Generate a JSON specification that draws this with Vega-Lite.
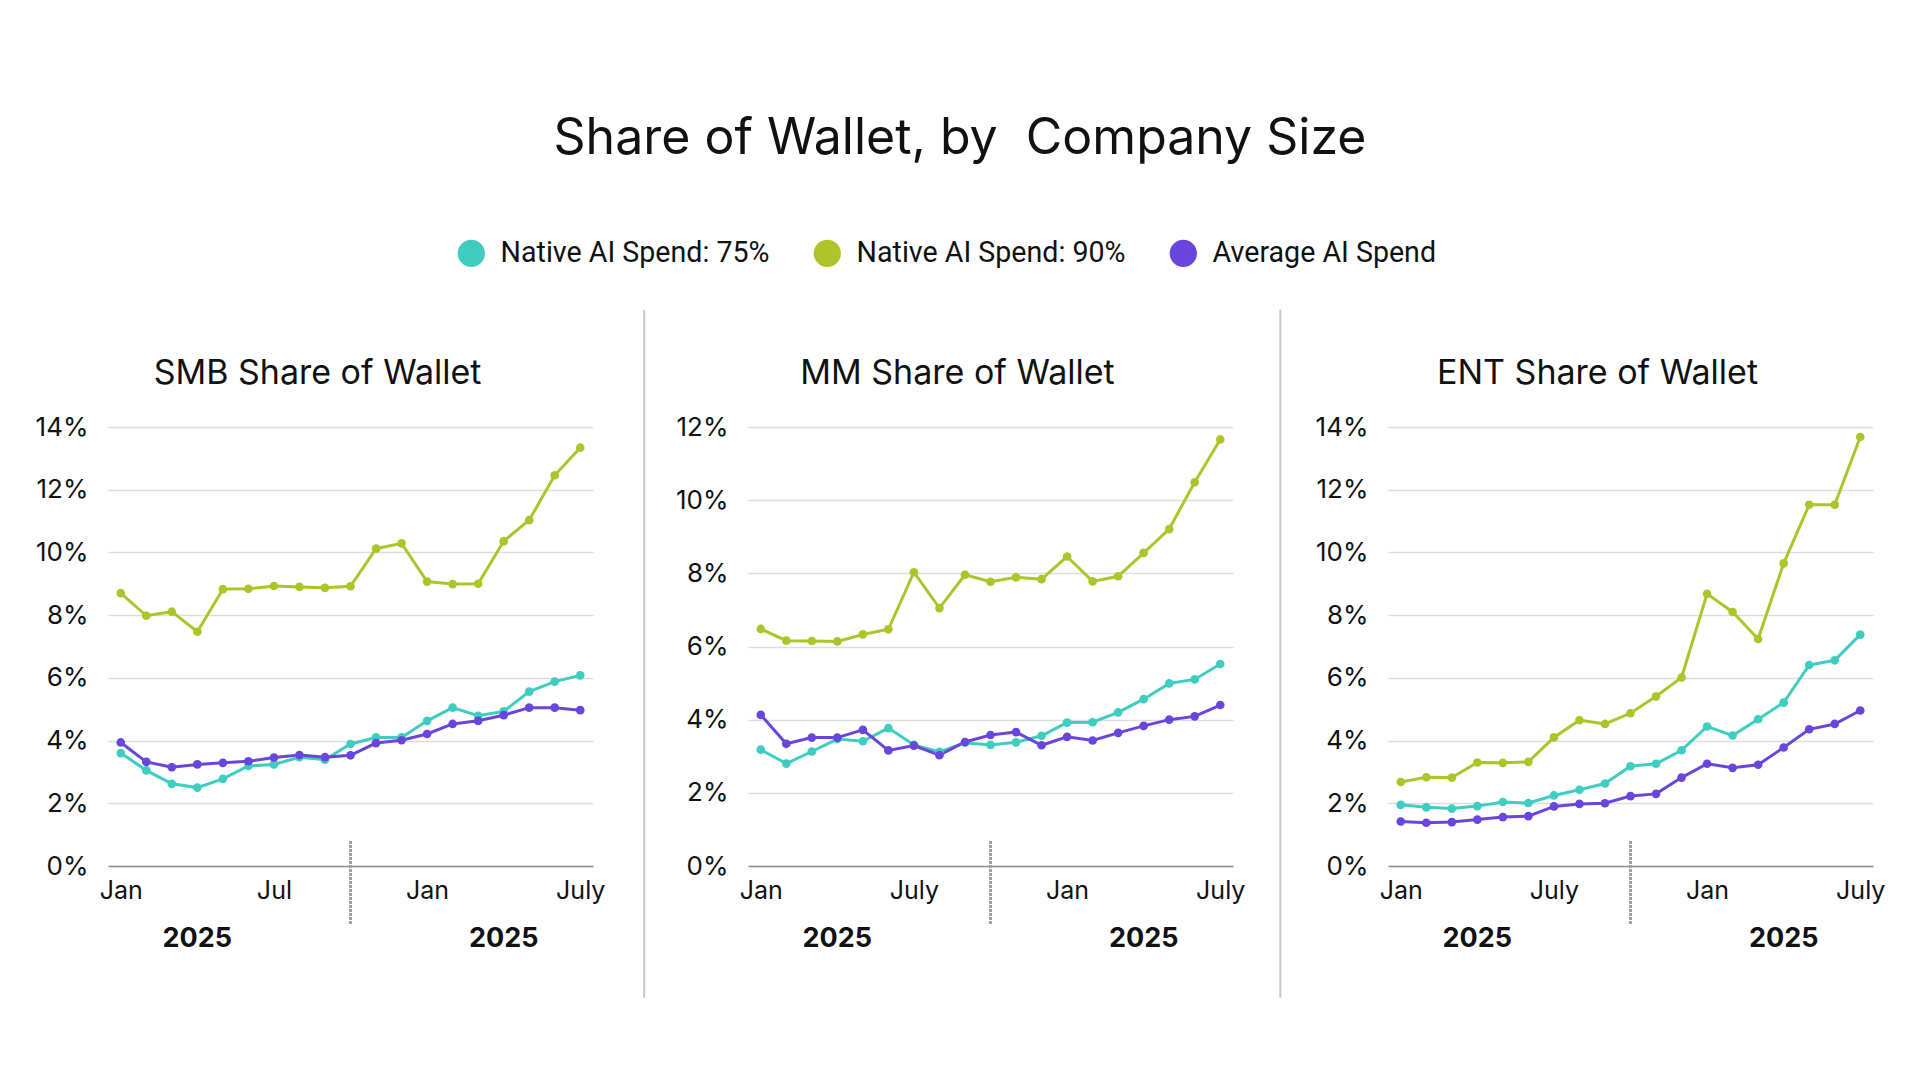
{
"$schema":"https://vega.github.io/schema/vega-lite/v6.json",
"padding":{"left":35,"top":114,"right":0,"bottom":0},
"background":"white",
"title":{"text":"Share of Wallet, by \u00a0Company Size","fontSize":50,"font":"Inter","fontWeight":400,"color":"#111111","anchor":"middle","offset":75},
"config":{"view":{"stroke":null},"font":"Inter","axis":{"labelFont":"Inter","labelColor":"#111111"}},
"spacing":155,
"bounds":"flush",
"data":{"values":[
{"panel":"SMB","series":"Native AI Spend: 75%","month":0,"value":3.60},{"panel":"SMB","series":"Native AI Spend: 75%","month":1,"value":3.05},{"panel":"SMB","series":"Native AI Spend: 75%","month":2,"value":2.62},{"panel":"SMB","series":"Native AI Spend: 75%","month":3,"value":2.50},{"panel":"SMB","series":"Native AI Spend: 75%","month":4,"value":2.78},{"panel":"SMB","series":"Native AI Spend: 75%","month":5,"value":3.19},{"panel":"SMB","series":"Native AI Spend: 75%","month":6,"value":3.24},{"panel":"SMB","series":"Native AI Spend: 75%","month":7,"value":3.47},{"panel":"SMB","series":"Native AI Spend: 75%","month":8,"value":3.39},{"panel":"SMB","series":"Native AI Spend: 75%","month":9,"value":3.89},{"panel":"SMB","series":"Native AI Spend: 75%","month":10,"value":4.10},{"panel":"SMB","series":"Native AI Spend: 75%","month":11,"value":4.10},{"panel":"SMB","series":"Native AI Spend: 75%","month":12,"value":4.63},{"panel":"SMB","series":"Native AI Spend: 75%","month":13,"value":5.05},{"panel":"SMB","series":"Native AI Spend: 75%","month":14,"value":4.79},{"panel":"SMB","series":"Native AI Spend: 75%","month":15,"value":4.93},{"panel":"SMB","series":"Native AI Spend: 75%","month":16,"value":5.56},{"panel":"SMB","series":"Native AI Spend: 75%","month":17,"value":5.88},{"panel":"SMB","series":"Native AI Spend: 75%","month":18,"value":6.08},
{"panel":"SMB","series":"Native AI Spend: 90%","month":0,"value":8.70},{"panel":"SMB","series":"Native AI Spend: 90%","month":1,"value":7.98},{"panel":"SMB","series":"Native AI Spend: 90%","month":2,"value":8.11},{"panel":"SMB","series":"Native AI Spend: 90%","month":3,"value":7.47},{"panel":"SMB","series":"Native AI Spend: 90%","month":4,"value":8.83},{"panel":"SMB","series":"Native AI Spend: 90%","month":5,"value":8.84},{"panel":"SMB","series":"Native AI Spend: 90%","month":6,"value":8.93},{"panel":"SMB","series":"Native AI Spend: 90%","month":7,"value":8.90},{"panel":"SMB","series":"Native AI Spend: 90%","month":8,"value":8.87},{"panel":"SMB","series":"Native AI Spend: 90%","month":9,"value":8.92},{"panel":"SMB","series":"Native AI Spend: 90%","month":10,"value":10.12},{"panel":"SMB","series":"Native AI Spend: 90%","month":11,"value":10.29},{"panel":"SMB","series":"Native AI Spend: 90%","month":12,"value":9.07},{"panel":"SMB","series":"Native AI Spend: 90%","month":13,"value":8.99},{"panel":"SMB","series":"Native AI Spend: 90%","month":14,"value":9.00},{"panel":"SMB","series":"Native AI Spend: 90%","month":15,"value":10.36},{"panel":"SMB","series":"Native AI Spend: 90%","month":16,"value":11.03},{"panel":"SMB","series":"Native AI Spend: 90%","month":17,"value":12.46},{"panel":"SMB","series":"Native AI Spend: 90%","month":18,"value":13.34},
{"panel":"SMB","series":"Average AI Spend","month":0,"value":3.94},{"panel":"SMB","series":"Average AI Spend","month":1,"value":3.32},{"panel":"SMB","series":"Average AI Spend","month":2,"value":3.15},{"panel":"SMB","series":"Average AI Spend","month":3,"value":3.24},{"panel":"SMB","series":"Average AI Spend","month":4,"value":3.29},{"panel":"SMB","series":"Average AI Spend","month":5,"value":3.34},{"panel":"SMB","series":"Average AI Spend","month":6,"value":3.46},{"panel":"SMB","series":"Average AI Spend","month":7,"value":3.54},{"panel":"SMB","series":"Average AI Spend","month":8,"value":3.47},{"panel":"SMB","series":"Average AI Spend","month":9,"value":3.53},{"panel":"SMB","series":"Average AI Spend","month":10,"value":3.92},{"panel":"SMB","series":"Average AI Spend","month":11,"value":4.01},{"panel":"SMB","series":"Average AI Spend","month":12,"value":4.21},{"panel":"SMB","series":"Average AI Spend","month":13,"value":4.53},{"panel":"SMB","series":"Average AI Spend","month":14,"value":4.63},{"panel":"SMB","series":"Average AI Spend","month":15,"value":4.81},{"panel":"SMB","series":"Average AI Spend","month":16,"value":5.05},{"panel":"SMB","series":"Average AI Spend","month":17,"value":5.05},{"panel":"SMB","series":"Average AI Spend","month":18,"value":4.97},
{"panel":"MM","series":"Native AI Spend: 75%","month":0,"value":3.18},{"panel":"MM","series":"Native AI Spend: 75%","month":1,"value":2.80},{"panel":"MM","series":"Native AI Spend: 75%","month":2,"value":3.13},{"panel":"MM","series":"Native AI Spend: 75%","month":3,"value":3.47},{"panel":"MM","series":"Native AI Spend: 75%","month":4,"value":3.41},{"panel":"MM","series":"Native AI Spend: 75%","month":5,"value":3.77},{"panel":"MM","series":"Native AI Spend: 75%","month":6,"value":3.31},{"panel":"MM","series":"Native AI Spend: 75%","month":7,"value":3.12},{"panel":"MM","series":"Native AI Spend: 75%","month":8,"value":3.37},{"panel":"MM","series":"Native AI Spend: 75%","month":9,"value":3.31},{"panel":"MM","series":"Native AI Spend: 75%","month":10,"value":3.38},{"panel":"MM","series":"Native AI Spend: 75%","month":11,"value":3.56},{"panel":"MM","series":"Native AI Spend: 75%","month":12,"value":3.92},{"panel":"MM","series":"Native AI Spend: 75%","month":13,"value":3.93},{"panel":"MM","series":"Native AI Spend: 75%","month":14,"value":4.20},{"panel":"MM","series":"Native AI Spend: 75%","month":15,"value":4.56},{"panel":"MM","series":"Native AI Spend: 75%","month":16,"value":4.99},{"panel":"MM","series":"Native AI Spend: 75%","month":17,"value":5.10},{"panel":"MM","series":"Native AI Spend: 75%","month":18,"value":5.52},
{"panel":"MM","series":"Native AI Spend: 90%","month":0,"value":6.48},{"panel":"MM","series":"Native AI Spend: 90%","month":1,"value":6.16},{"panel":"MM","series":"Native AI Spend: 90%","month":2,"value":6.15},{"panel":"MM","series":"Native AI Spend: 90%","month":3,"value":6.14},{"panel":"MM","series":"Native AI Spend: 90%","month":4,"value":6.33},{"panel":"MM","series":"Native AI Spend: 90%","month":5,"value":6.47},{"panel":"MM","series":"Native AI Spend: 90%","month":6,"value":8.03},{"panel":"MM","series":"Native AI Spend: 90%","month":7,"value":7.05},{"panel":"MM","series":"Native AI Spend: 90%","month":8,"value":7.96},{"panel":"MM","series":"Native AI Spend: 90%","month":9,"value":7.77},{"panel":"MM","series":"Native AI Spend: 90%","month":10,"value":7.89},{"panel":"MM","series":"Native AI Spend: 90%","month":11,"value":7.84},{"panel":"MM","series":"Native AI Spend: 90%","month":12,"value":8.46},{"panel":"MM","series":"Native AI Spend: 90%","month":13,"value":7.78},{"panel":"MM","series":"Native AI Spend: 90%","month":14,"value":7.92},{"panel":"MM","series":"Native AI Spend: 90%","month":15,"value":8.56},{"panel":"MM","series":"Native AI Spend: 90%","month":16,"value":9.21},{"panel":"MM","series":"Native AI Spend: 90%","month":17,"value":10.49},{"panel":"MM","series":"Native AI Spend: 90%","month":18,"value":11.66},
{"panel":"MM","series":"Average AI Spend","month":0,"value":4.13},{"panel":"MM","series":"Average AI Spend","month":1,"value":3.34},{"panel":"MM","series":"Average AI Spend","month":2,"value":3.51},{"panel":"MM","series":"Average AI Spend","month":3,"value":3.51},{"panel":"MM","series":"Average AI Spend","month":4,"value":3.72},{"panel":"MM","series":"Average AI Spend","month":5,"value":3.16},{"panel":"MM","series":"Average AI Spend","month":6,"value":3.29},{"panel":"MM","series":"Average AI Spend","month":7,"value":3.03},{"panel":"MM","series":"Average AI Spend","month":8,"value":3.39},{"panel":"MM","series":"Average AI Spend","month":9,"value":3.58},{"panel":"MM","series":"Average AI Spend","month":10,"value":3.66},{"panel":"MM","series":"Average AI Spend","month":11,"value":3.30},{"panel":"MM","series":"Average AI Spend","month":12,"value":3.53},{"panel":"MM","series":"Average AI Spend","month":13,"value":3.43},{"panel":"MM","series":"Average AI Spend","month":14,"value":3.64},{"panel":"MM","series":"Average AI Spend","month":15,"value":3.83},{"panel":"MM","series":"Average AI Spend","month":16,"value":4.00},{"panel":"MM","series":"Average AI Spend","month":17,"value":4.09},{"panel":"MM","series":"Average AI Spend","month":18,"value":4.40},
{"panel":"ENT","series":"Native AI Spend: 75%","month":0,"value":1.95},{"panel":"ENT","series":"Native AI Spend: 75%","month":1,"value":1.87},{"panel":"ENT","series":"Native AI Spend: 75%","month":2,"value":1.83},{"panel":"ENT","series":"Native AI Spend: 75%","month":3,"value":1.91},{"panel":"ENT","series":"Native AI Spend: 75%","month":4,"value":2.04},{"panel":"ENT","series":"Native AI Spend: 75%","month":5,"value":2.01},{"panel":"ENT","series":"Native AI Spend: 75%","month":6,"value":2.25},{"panel":"ENT","series":"Native AI Spend: 75%","month":7,"value":2.43},{"panel":"ENT","series":"Native AI Spend: 75%","month":8,"value":2.63},{"panel":"ENT","series":"Native AI Spend: 75%","month":9,"value":3.18},{"panel":"ENT","series":"Native AI Spend: 75%","month":10,"value":3.26},{"panel":"ENT","series":"Native AI Spend: 75%","month":11,"value":3.69},{"panel":"ENT","series":"Native AI Spend: 75%","month":12,"value":4.45},{"panel":"ENT","series":"Native AI Spend: 75%","month":13,"value":4.16},{"panel":"ENT","series":"Native AI Spend: 75%","month":14,"value":4.68},{"panel":"ENT","series":"Native AI Spend: 75%","month":15,"value":5.21},{"panel":"ENT","series":"Native AI Spend: 75%","month":16,"value":6.41},{"panel":"ENT","series":"Native AI Spend: 75%","month":17,"value":6.56},{"panel":"ENT","series":"Native AI Spend: 75%","month":18,"value":7.38},
{"panel":"ENT","series":"Native AI Spend: 90%","month":0,"value":2.68},{"panel":"ENT","series":"Native AI Spend: 90%","month":1,"value":2.83},{"panel":"ENT","series":"Native AI Spend: 90%","month":2,"value":2.82},{"panel":"ENT","series":"Native AI Spend: 90%","month":3,"value":3.30},{"panel":"ENT","series":"Native AI Spend: 90%","month":4,"value":3.29},{"panel":"ENT","series":"Native AI Spend: 90%","month":5,"value":3.32},{"panel":"ENT","series":"Native AI Spend: 90%","month":6,"value":4.10},{"panel":"ENT","series":"Native AI Spend: 90%","month":7,"value":4.65},{"panel":"ENT","series":"Native AI Spend: 90%","month":8,"value":4.53},{"panel":"ENT","series":"Native AI Spend: 90%","month":9,"value":4.87},{"panel":"ENT","series":"Native AI Spend: 90%","month":10,"value":5.41},{"panel":"ENT","series":"Native AI Spend: 90%","month":11,"value":6.01},{"panel":"ENT","series":"Native AI Spend: 90%","month":12,"value":8.68},{"panel":"ENT","series":"Native AI Spend: 90%","month":13,"value":8.10},{"panel":"ENT","series":"Native AI Spend: 90%","month":14,"value":7.24},{"panel":"ENT","series":"Native AI Spend: 90%","month":15,"value":9.65},{"panel":"ENT","series":"Native AI Spend: 90%","month":16,"value":11.52},{"panel":"ENT","series":"Native AI Spend: 90%","month":17,"value":11.52},{"panel":"ENT","series":"Native AI Spend: 90%","month":18,"value":13.68},
{"panel":"ENT","series":"Average AI Spend","month":0,"value":1.42},{"panel":"ENT","series":"Average AI Spend","month":1,"value":1.38},{"panel":"ENT","series":"Average AI Spend","month":2,"value":1.40},{"panel":"ENT","series":"Average AI Spend","month":3,"value":1.48},{"panel":"ENT","series":"Average AI Spend","month":4,"value":1.56},{"panel":"ENT","series":"Average AI Spend","month":5,"value":1.59},{"panel":"ENT","series":"Average AI Spend","month":6,"value":1.90},{"panel":"ENT","series":"Average AI Spend","month":7,"value":1.98},{"panel":"ENT","series":"Average AI Spend","month":8,"value":2.00},{"panel":"ENT","series":"Average AI Spend","month":9,"value":2.23},{"panel":"ENT","series":"Average AI Spend","month":10,"value":2.30},{"panel":"ENT","series":"Average AI Spend","month":11,"value":2.82},{"panel":"ENT","series":"Average AI Spend","month":12,"value":3.26},{"panel":"ENT","series":"Average AI Spend","month":13,"value":3.13},{"panel":"ENT","series":"Average AI Spend","month":14,"value":3.23},{"panel":"ENT","series":"Average AI Spend","month":15,"value":3.78},{"panel":"ENT","series":"Average AI Spend","month":16,"value":4.36},{"panel":"ENT","series":"Average AI Spend","month":17,"value":4.53},{"panel":"ENT","series":"Average AI Spend","month":18,"value":4.96}
]},
"hconcat":[
{
"width":485,"height":439,
"layer":[
{"transform":[{"filter":"datum.panel == 'SMB'"}],
"layer":[
{"mark":{"type":"line","strokeWidth":3},"encoding":{
"x":{"field":"month","type":"ordinal","scale":{"type":"point","padding":0.5,"domain":[0,1,2,3,4,5,6,7,8,9,10,11,12,13,14,15,16,17,18]},"axis":{"values":[0,6,12,18],"labelExpr":"datum.value == 0 ? 'Jan' : datum.value == 6 ? 'Jul' : datum.value == 12 ? 'Jan' : 'July'","title":null,"labelAngle":0,"labelFontSize":25,"labelPadding":12,"ticks":false,"grid":false,"domainColor":"#8c8c8c","domainWidth":1.5}},
"y":{"field":"value","type":"quantitative","scale":{"domain":[0,14],"nice":false},"axis":{"values":[0,2,4,6,8,10,12,14],"labelExpr":"datum.value + '%'","title":null,"labelFontSize":26,"labelPadding":20,"ticks":false,"domain":false,"grid":true,"gridColor":"#dddddd","gridWidth":1.5}},
"color":{"field":"series","type":"nominal","scale":{"domain":["Native AI Spend: 75%","Native AI Spend: 90%","Average AI Spend"],"range":["#3ECDC0","#AFC42A","#6A45DB"]},"legend":{"orient":"none","legendX":349,"legendY":-188,"direction":"horizontal","title":null,"symbolType":"circle","symbolSize":740,"symbolStrokeWidth":0,"symbolOpacity":1,"labelFontSize":28.6,"labelFont":"Roboto","labelColor":"#111111","labelOffset":15,"labelLimit":600,"columnPadding":43,"padding":0}}}},
{"mark":{"type":"point","filled":true,"size":75,"opacity":1},"encoding":{"x":{"field":"month","type":"ordinal"},"y":{"field":"value","type":"quantitative"},"color":{"field":"series","type":"nominal"}}},
{"mark":{"type":"rule","strokeDash":[2,2],"strokeWidth":2,"color":"#a0a0a0"},"encoding":{"x":{"datum":9,"type":"ordinal"},"y":{"datum":0.77,"type":"quantitative"},"y2":{"datum":-1.85}}},
{"data":{"values":[{"month":3,"label":"2025"},{"month":15,"label":"2025"}]},"mark":{"type":"text","fontWeight":"bold","fontSize":27,"font":"Inter","baseline":"middle","color":"#111111"},"encoding":{"x":{"field":"month","type":"ordinal"},"y":{"datum":-2.33,"type":"quantitative"},"text":{"field":"label"}}}
]},
{"data":{"values":[{"title":"SMB Share of Wallet"}]},"mark":{"type":"text","font":"Inter","fontSize":34,"color":"#111111","align":"center","baseline":"alphabetic"},"encoding":{"x":{"datum":0.432,"type":"quantitative","scale":{"domain":[0,1]},"axis":null},"y":{"datum":1.097,"type":"quantitative","scale":{"domain":[0,1]},"axis":null},"text":{"field":"title"}}}
],
"resolve":{"scale":{"x":"independent","y":"independent"}}
},
{
"width":485,"height":439,
"layer":[
{"transform":[{"filter":"datum.panel == 'MM'"}],
"layer":[
{"mark":{"type":"line","strokeWidth":3},"encoding":{
"x":{"field":"month","type":"ordinal","scale":{"type":"point","padding":0.5,"domain":[0,1,2,3,4,5,6,7,8,9,10,11,12,13,14,15,16,17,18]},"axis":{"values":[0,6,12,18],"labelExpr":"datum.value == 0 ? 'Jan' : datum.value == 6 ? 'July' : datum.value == 12 ? 'Jan' : 'July'","title":null,"labelAngle":0,"labelFontSize":25,"labelPadding":12,"ticks":false,"grid":false,"domainColor":"#8c8c8c","domainWidth":1.5}},
"y":{"field":"value","type":"quantitative","scale":{"domain":[0,12],"nice":false},"axis":{"values":[0,2,4,6,8,10,12],"labelExpr":"datum.value + '%'","title":null,"labelFontSize":26,"labelPadding":20,"ticks":false,"domain":false,"grid":true,"gridColor":"#dddddd","gridWidth":1.5}},
"color":{"field":"series","type":"nominal","scale":{"domain":["Native AI Spend: 75%","Native AI Spend: 90%","Average AI Spend"],"range":["#3ECDC0","#AFC42A","#6A45DB"]},"legend":{"orient":"none","legendX":349,"legendY":-188,"direction":"horizontal","title":null,"symbolType":"circle","symbolSize":740,"symbolStrokeWidth":0,"symbolOpacity":1,"labelFontSize":28.6,"labelFont":"Roboto","labelColor":"#111111","labelOffset":15,"labelLimit":600,"columnPadding":43,"padding":0}}}},
{"mark":{"type":"point","filled":true,"size":75,"opacity":1},"encoding":{"x":{"field":"month","type":"ordinal"},"y":{"field":"value","type":"quantitative"},"color":{"field":"series","type":"nominal"}}},
{"mark":{"type":"rule","strokeDash":[2,2],"strokeWidth":2,"color":"#a0a0a0"},"encoding":{"x":{"datum":9,"type":"ordinal"},"y":{"datum":0.66,"type":"quantitative"},"y2":{"datum":-1.59}}},
{"data":{"values":[{"month":3,"label":"2025"},{"month":15,"label":"2025"}]},"mark":{"type":"text","fontWeight":"bold","fontSize":27,"font":"Inter","baseline":"middle","color":"#111111"},"encoding":{"x":{"field":"month","type":"ordinal"},"y":{"datum":-2.0,"type":"quantitative"},"text":{"field":"label"}}}
]},
{"data":{"values":[{"sep":"left"}]},"mark":{"type":"rule","color":"#c8c8c8","strokeWidth":2},"encoding":{"x":{"datum":-0.214,"type":"quantitative","scale":{"domain":[0,1]},"axis":null},"y":{"datum":1.267,"type":"quantitative","scale":{"domain":[0,1]},"axis":null},"y2":{"datum":-0.3}}},
{"data":{"values":[{"title":"MM Share of Wallet"}]},"mark":{"type":"text","font":"Inter","fontSize":34,"color":"#111111","align":"center","baseline":"alphabetic"},"encoding":{"x":{"datum":0.432,"type":"quantitative","scale":{"domain":[0,1]},"axis":null},"y":{"datum":1.097,"type":"quantitative","scale":{"domain":[0,1]},"axis":null},"text":{"field":"title"}}}
],
"resolve":{"scale":{"x":"independent","y":"independent"}}
},
{
"width":485,"height":439,
"layer":[
{"transform":[{"filter":"datum.panel == 'ENT'"}],
"layer":[
{"mark":{"type":"line","strokeWidth":3},"encoding":{
"x":{"field":"month","type":"ordinal","scale":{"type":"point","padding":0.5,"domain":[0,1,2,3,4,5,6,7,8,9,10,11,12,13,14,15,16,17,18]},"axis":{"values":[0,6,12,18],"labelExpr":"datum.value == 0 ? 'Jan' : datum.value == 6 ? 'July' : datum.value == 12 ? 'Jan' : 'July'","title":null,"labelAngle":0,"labelFontSize":25,"labelPadding":12,"ticks":false,"grid":false,"domainColor":"#8c8c8c","domainWidth":1.5}},
"y":{"field":"value","type":"quantitative","scale":{"domain":[0,14],"nice":false},"axis":{"values":[0,2,4,6,8,10,12,14],"labelExpr":"datum.value + '%'","title":null,"labelFontSize":26,"labelPadding":20,"ticks":false,"domain":false,"grid":true,"gridColor":"#dddddd","gridWidth":1.5}},
"color":{"field":"series","type":"nominal","scale":{"domain":["Native AI Spend: 75%","Native AI Spend: 90%","Average AI Spend"],"range":["#3ECDC0","#AFC42A","#6A45DB"]},"legend":{"orient":"none","legendX":349,"legendY":-188,"direction":"horizontal","title":null,"symbolType":"circle","symbolSize":740,"symbolStrokeWidth":0,"symbolOpacity":1,"labelFontSize":28.6,"labelFont":"Roboto","labelColor":"#111111","labelOffset":15,"labelLimit":600,"columnPadding":43,"padding":0}}}},
{"mark":{"type":"point","filled":true,"size":75,"opacity":1},"encoding":{"x":{"field":"month","type":"ordinal"},"y":{"field":"value","type":"quantitative"},"color":{"field":"series","type":"nominal"}}},
{"mark":{"type":"rule","strokeDash":[2,2],"strokeWidth":2,"color":"#a0a0a0"},"encoding":{"x":{"datum":9,"type":"ordinal"},"y":{"datum":0.77,"type":"quantitative"},"y2":{"datum":-1.85}}},
{"data":{"values":[{"month":3,"label":"2025"},{"month":15,"label":"2025"}]},"mark":{"type":"text","fontWeight":"bold","fontSize":27,"font":"Inter","baseline":"middle","color":"#111111"},"encoding":{"x":{"field":"month","type":"ordinal"},"y":{"datum":-2.33,"type":"quantitative"},"text":{"field":"label"}}}
]},
{"data":{"values":[{"sep":"left"}]},"mark":{"type":"rule","color":"#c8c8c8","strokeWidth":2},"encoding":{"x":{"datum":-0.222,"type":"quantitative","scale":{"domain":[0,1]},"axis":null},"y":{"datum":1.267,"type":"quantitative","scale":{"domain":[0,1]},"axis":null},"y2":{"datum":-0.3}}},
{"data":{"values":[{"title":"ENT Share of Wallet"}]},"mark":{"type":"text","font":"Inter","fontSize":34,"color":"#111111","align":"center","baseline":"alphabetic"},"encoding":{"x":{"datum":0.432,"type":"quantitative","scale":{"domain":[0,1]},"axis":null},"y":{"datum":1.097,"type":"quantitative","scale":{"domain":[0,1]},"axis":null},"text":{"field":"title"}}}
],
"resolve":{"scale":{"x":"independent","y":"independent"}}
}
]
}
